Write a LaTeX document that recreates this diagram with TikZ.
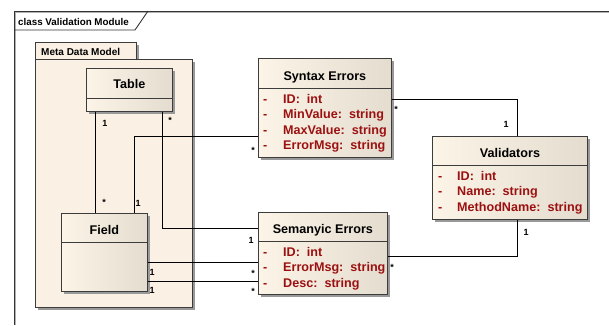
\documentclass[tikz,border=0pt]{standalone}
\usepackage{fontspec}
\setmainfont{Liberation Sans}
\usetikzlibrary{shadows}
\definecolor{creamL}{RGB}{252,244,230}
\definecolor{creamR}{RGB}{228,220,207}
\definecolor{pkgfill}{RGB}{250,240,227}
\definecolor{attrred}{RGB}{155,16,16}
\definecolor{boxline}{RGB}{60,60,60}
\begin{document}
\begin{tikzpicture}[x=1pt,y=-1pt,
  shadowed/.style={drop shadow={shadow xshift=3pt, shadow yshift=-3pt, fill=black!40, opacity=1}},
  classbox/.style={rectangle, draw=boxline, line width=0.8pt, left color=creamL, right color=creamR, inner sep=0pt, anchor=north west, shadowed},
  pkgbox/.style={rectangle, draw=boxline, line width=0.8pt, fill=pkgfill, inner sep=0pt, anchor=north west, shadowed},
  divider/.style={draw=boxline, line width=0.8pt},
  clsname/.style={font=\fontsize{12.6}{14}\selectfont\bfseries, anchor=base, inner sep=0pt},
  attr/.style={font=\fontsize{12.6}{14}\selectfont\bfseries, text=attrred, anchor=base west, inner sep=0pt},
  mult/.style={font=\fontsize{9}{10}\selectfont\bfseries, inner sep=0pt},
  title/.style={font=\fontsize{9.8}{11}\selectfont\bfseries, anchor=base west, inner sep=0pt},
  conn/.style={draw=black, line width=1.6pt},
  frameline/.style={draw=black!80, line width=0.9pt}
]
\useasboundingbox (0,0) rectangle (609,325);
\fill[white] (0,0) rectangle (609,325);

% frame
\draw[black!30, line width=0.8pt] (15.5,325) -- (15.5,12.5) -- (609,12.5);
\draw[frameline] (14,325) -- (14,11) -- (609,11);
\draw[frameline] (14,30) -- (135,30) -- (148,11);
\node[title] (frametitle) at (18,25) {class Validation Module};

% package
\node[pkgbox, minimum width=101pt, minimum height=17pt] (pkgtab) at (35,42) {};
\node[pkgbox, minimum width=157pt, minimum height=248pt] (pkg) at (35,59) {};
\node[title, font=\fontsize{10}{11}\selectfont\bfseries] (pkgtitle) at (41,55.5) {Meta Data Model};

% Table
\node[classbox, minimum width=86pt, minimum height=43pt] (table) at (86,68) {};
\draw[divider] ([yshift=-30pt]table.north west) -- ([yshift=-30pt]table.north east);
\node[clsname] (tablename) at ([yshift=-20pt]table.north) {Table};

% Field
\node[classbox, minimum width=86pt, minimum height=78pt] (field) at (61,213) {};
\draw[divider] ([yshift=-29pt]field.north west) -- ([yshift=-29pt]field.north east);
\node[clsname] (fieldname) at ([yshift=-21pt]field.north) {Field};

% Syntax Errors
\node[classbox, minimum width=133pt, minimum height=99pt] (syn) at (258,58) {};
\draw[divider] ([yshift=-30pt]syn.north west) -- ([yshift=-30pt]syn.north east);
\node[clsname] (synname) at ([yshift=-22pt]syn.north) {Syntax Errors};
\node[attr] (syna1) at ([xshift=5pt,yshift=-45.5pt]syn.north west) {\makebox[20pt][l]{-}ID:\ \ int};
\node[attr] (syna2) at ([xshift=5pt,yshift=-60.8pt]syn.north west) {\makebox[20pt][l]{-}MinValue:\ \ string};
\node[attr] (syna3) at ([xshift=5pt,yshift=-76.1pt]syn.north west) {\makebox[20pt][l]{-}MaxValue:\ \ string};
\node[attr] (syna4) at ([xshift=5pt,yshift=-91.4pt]syn.north west) {\makebox[20pt][l]{-}ErrorMsg:\ \ string};

% Semanyic Errors
\node[classbox, minimum width=129pt, minimum height=82pt] (sem) at (258,212) {};
\draw[divider] ([yshift=-29pt]sem.north west) -- ([yshift=-29pt]sem.north east);
\node[clsname] (semname) at ([yshift=-21pt]sem.north) {Semanyic Errors};
\node[attr] (sema1) at ([xshift=5pt,yshift=-44.5pt]sem.north west) {\makebox[20pt][l]{-}ID:\ \ int};
\node[attr] (sema2) at ([xshift=5pt,yshift=-59.8pt]sem.north west) {\makebox[20pt][l]{-}ErrorMsg:\ \ string};
\node[attr] (sema3) at ([xshift=5pt,yshift=-75.1pt]sem.north west) {\makebox[20pt][l]{-}Desc:\ \ string};

% Validators
\node[classbox, minimum width=155pt, minimum height=83pt] (val) at (432,136) {};
\draw[divider] ([yshift=-29pt]val.north west) -- ([yshift=-29pt]val.north east);
\node[clsname] (valname) at ([yshift=-21pt]val.north) {Validators};
\node[attr] (vala1) at ([xshift=6pt,yshift=-44.5pt]val.north west) {\makebox[19pt][l]{-}ID:\ \ int};
\node[attr] (vala2) at ([xshift=6pt,yshift=-59.8pt]val.north west) {\makebox[19pt][l]{-}Name:\ \ string};
\node[attr] (vala3) at ([xshift=6pt,yshift=-75.1pt]val.north west) {\makebox[19pt][l]{-}MethodName:\ \ string};

% connectors
\draw[conn] ([xshift=-34pt]table.south) -- ([xshift=-9pt]field.north);
\draw[conn] ([xshift=33pt]table.south) |- ([yshift=25pt]sem.west);
\draw[conn] ([xshift=30pt]field.north) |- ([yshift=-28.5pt]syn.west);
\draw[conn] ([yshift=-10pt]field.east) -- ([yshift=-9pt]sem.west);
\draw[conn] ([yshift=-29pt]field.east) -- ([yshift=-28pt]sem.west);
\draw[conn] ([yshift=8.5pt]syn.east) -| ([xshift=7.5pt]val.north);
\draw[conn] ([xshift=7.5pt]val.south) |- ([yshift=-3pt]sem.east);

% multiplicities
\node[mult] (m1) at (105,123) {1};
\node[mult] (m2) at (104,202) {*};
\node[mult] (m3) at (170,120) {*};
\node[mult] (m4) at (251,240) {1};
\node[mult] (m5) at (138,203) {1};
\node[mult] (m6) at (253,150) {*};
\node[mult] (m7) at (152,272) {1};
\node[mult] (m8) at (253,273) {*};
\node[mult] (m9) at (152,290) {1};
\node[mult] (m10) at (253,291) {*};
\node[mult] (m11) at (396,109) {*};
\node[mult] (m12) at (506,124) {1};
\node[mult] (m13) at (526,232) {1};
\node[mult] (m14) at (392,267) {*};
\end{tikzpicture}
\end{document}
